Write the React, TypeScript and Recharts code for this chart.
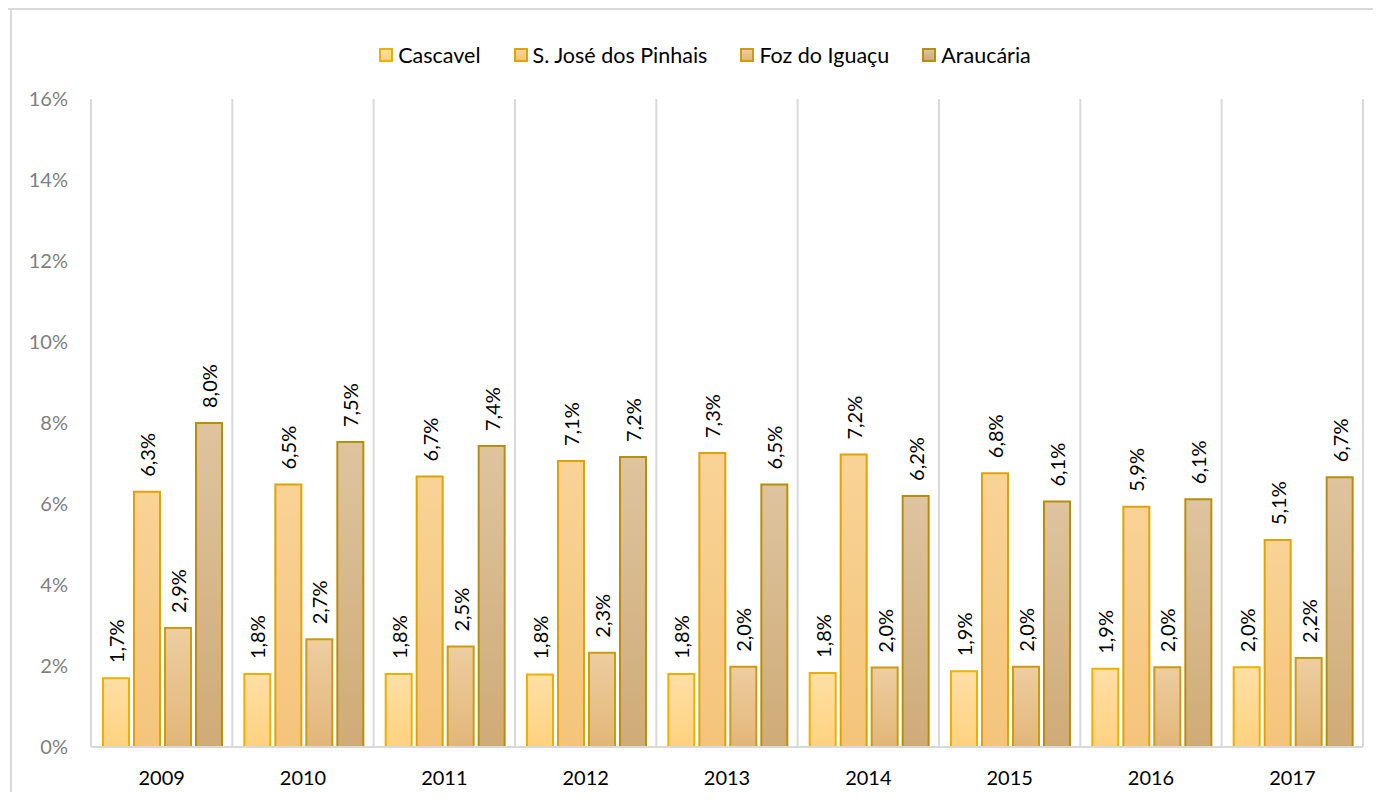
import { Bar, BarChart, XAxis, YAxis, CartesianGrid, Legend } from "recharts";

const years = ["2009", "2010", "2011", "2012", "2013", "2014", "2015", "2016", "2017"];
const cascavel = [1.7, 1.8, 1.8, 1.79, 1.8, 1.83, 1.87, 1.93, 1.97];
const saoJose = [6.3, 6.48, 6.68, 7.06, 7.26, 7.22, 6.76, 5.93, 5.11];
const fozIguacu = [2.94, 2.66, 2.48, 2.33, 1.98, 1.96, 1.98, 1.97, 2.2];
const araucaria = [8.0, 7.53, 7.43, 7.16, 6.48, 6.2, 6.06, 6.12, 6.66];
const yTicks = [0, 2, 4, 6, 8, 10, 12, 14, 16];

const series = [
  { key: "cascavel", name: "Cascavel", top: "#FFDFA6", bottom: "#FFD27F", stroke: "#EEB000" },
  { key: "saoJose", name: "S. José dos Pinhais", top: "#F9D396", bottom: "#F4C47A", stroke: "#DFA208" },
  { key: "fozIguacu", name: "Foz do Iguaçu", top: "#EECDA0", bottom: "#E2B678", stroke: "#CB9B12" },
  { key: "araucaria", name: "Araucária", top: "#DEC49F", bottom: "#CFAB77", stroke: "#B78F0C" },
];

const data = years.map((year, i) => ({
  year,
  cascavel: cascavel[i],
  saoJose: saoJose[i],
  fozIguacu: fozIguacu[i],
  araucaria: araucaria[i],
}));

const FONT = "Lato, 'Open Sans', sans-serif";

const fmt = (v: number) => v.toFixed(1).replace(".", ",") + "%";

const ValueLabel = (props: any) => {
  const { x, y, width, value } = props;
  const cx = x + width / 2;
  const cy = y - 15;
  return (
    <text
      x={cx}
      y={cy}
      transform={`rotate(-90, ${cx}, ${cy})`}
      textAnchor="start"
      dominantBaseline="central"
      fontSize={20}
      fontFamily={FONT}
      fill="#000"
    >
      {fmt(value)}
    </text>
  );
};

const LegendContent = () => (
  <div
    style={{
      display: "flex",
      justifyContent: "center",
      alignItems: "center",
      gap: 33,
      height: 30,
      fontFamily: FONT,
      fontSize: 21.5,
      color: "#000",
      paddingLeft: 47,
    }}
  >
    {series.map((s) => (
      <div key={s.key} style={{ display: "flex", alignItems: "center" }}>
        <span
          style={{
            display: "inline-block",
            width: 10,
            height: 10,
            background: `linear-gradient(${s.top}, ${s.bottom})`,
            border: `2px solid ${s.stroke}`,
            marginRight: 5,
          }}
        />
        <span>{s.name}</span>
      </div>
    ))}
  </div>
);

export default function App() {
  return (
    <div style={{ position: "relative", margin: -8, width: 1381, height: 800, background: "#fff", overflow: "hidden" }}>
      <div style={{ position: "absolute", left: 0, top: 8, width: 1381, height: 2, background: "#D9D9D9" }} />
      <div style={{ position: "absolute", left: 10, top: 8, width: 2, height: 792, background: "#D9D9D9" }} />
      <div style={{ position: "absolute", left: 0, top: 0 }}>
        <BarChart
          width={1381}
          height={800}
          data={data}
          margin={{ top: 69, right: 18, bottom: 23, left: 0 }}
          barCategoryGap={12}
          barGap={5}
        >
          <defs>
            {series.map((s) => (
              <linearGradient key={s.key} id={`grad-${s.key}`} x1="0" y1="0" x2="0" y2="1">
                <stop offset="0%" stopColor={s.top} />
                <stop offset="100%" stopColor={s.bottom} />
              </linearGradient>
            ))}
          </defs>
          <CartesianGrid
            horizontal={false}
            stroke="#D9D9D9"
            strokeWidth={2}
            verticalCoordinatesGenerator={({ offset }: any) =>
              Array.from({ length: years.length + 1 }, (_, i) => offset.left + (i * offset.width) / years.length)
            }
          />
          <XAxis
            dataKey="year"
            height={30}
            tickLine={false}
            tickSize={0}
            tickMargin={24}
            axisLine={{ stroke: "#D9D9D9", strokeWidth: 2 }}
            tick={{ fill: "#000", fontSize: 20, fontFamily: FONT }}
          />
          <YAxis
            width={91}
            domain={[0, 16]}
            ticks={yTicks}
            tickFormatter={(v) => `${v}%`}
            axisLine={false}
            tickLine={false}
            tickSize={0}
            tickMargin={23}
            tick={{ fill: "#7F7F7F", fontSize: 20, fontFamily: FONT }}
          />
          <Legend verticalAlign="top" wrapperStyle={{ top: 40 }} content={<LegendContent />} />
          {series.map((s) => (
            <Bar
              key={s.key}
              dataKey={s.key}
              name={s.name}
              fill={`url(#grad-${s.key})`}
              stroke={s.stroke}
              strokeWidth={2}
              isAnimationActive={false}
              label={<ValueLabel />}
            />
          ))}
        </BarChart>
      </div>
    </div>
  );
}
